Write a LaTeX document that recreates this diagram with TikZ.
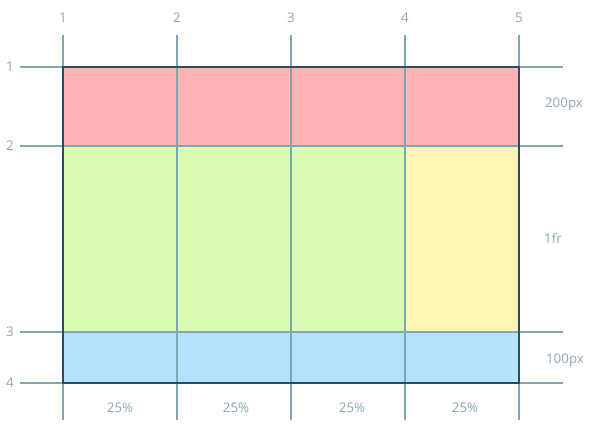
\documentclass[tikz,border=0pt]{standalone}
\usepackage{fontspec}
\setmainfont{Open Sans}
\usepackage{tikz}

\definecolor{gridline}{HTML}{7FA6B3}
\definecolor{edge}{HTML}{2E4A5C}
\definecolor{labeltext}{HTML}{8AA7B3}
\definecolor{headfill}{HTML}{FFB3B4}
\definecolor{mainfill}{HTML}{DAFBB2}
\definecolor{sidefill}{HTML}{FEF4B6}
\definecolor{footfill}{HTML}{B4E1FB}

\tikzset{
	gline/.style={color=gridline, line width=1pt},
	lbl/.style={color=labeltext, font=\fontsize{7.6}{9}\selectfont, inner sep=0pt}
}

\begin{document}
\begin{tikzpicture}[x=0.02cm,y=-0.02cm]
				\useasboundingbox (0,0) rectangle (600,441);
				% areas
				\fill[headfill] (63,67) rectangle (519,146);
				\fill[mainfill] (63,146) rectangle (405,332);
				\fill[sidefill] (405,146) rectangle (519,332);
				\fill[footfill] (63,332) rectangle (519,383);
				
				% column lines
				\foreach \x/\n in {63/1,177/2,291/3,405/4,519/5}
					\draw[gline] (\x,35) -- (\x,420) node[lbl] (col\n) at (\x,18) {\n};
				% row lines
				\foreach \y/\n in {67/1,146/2,332/3,383/4}
					\draw[gline] (20,\y) -- (563,\y) node[lbl] (row\n) at (10,\y) {\n};
				
				\draw[edge, line width=1.2pt] (63,67) rectangle (519,383);
				
				% track sizes
				\node[lbl] (head) at (564,104) {200px};
				\node[lbl] (main) at (553,238) {1fr};
				\node[lbl] (foot) at (565,360) {100px};
				\foreach \x/\n in {120/1,236/2,352/3,465/4}
					\node[lbl] (width\n) at (\x,408) {25\%};
			\end{tikzpicture}
\end{document}
